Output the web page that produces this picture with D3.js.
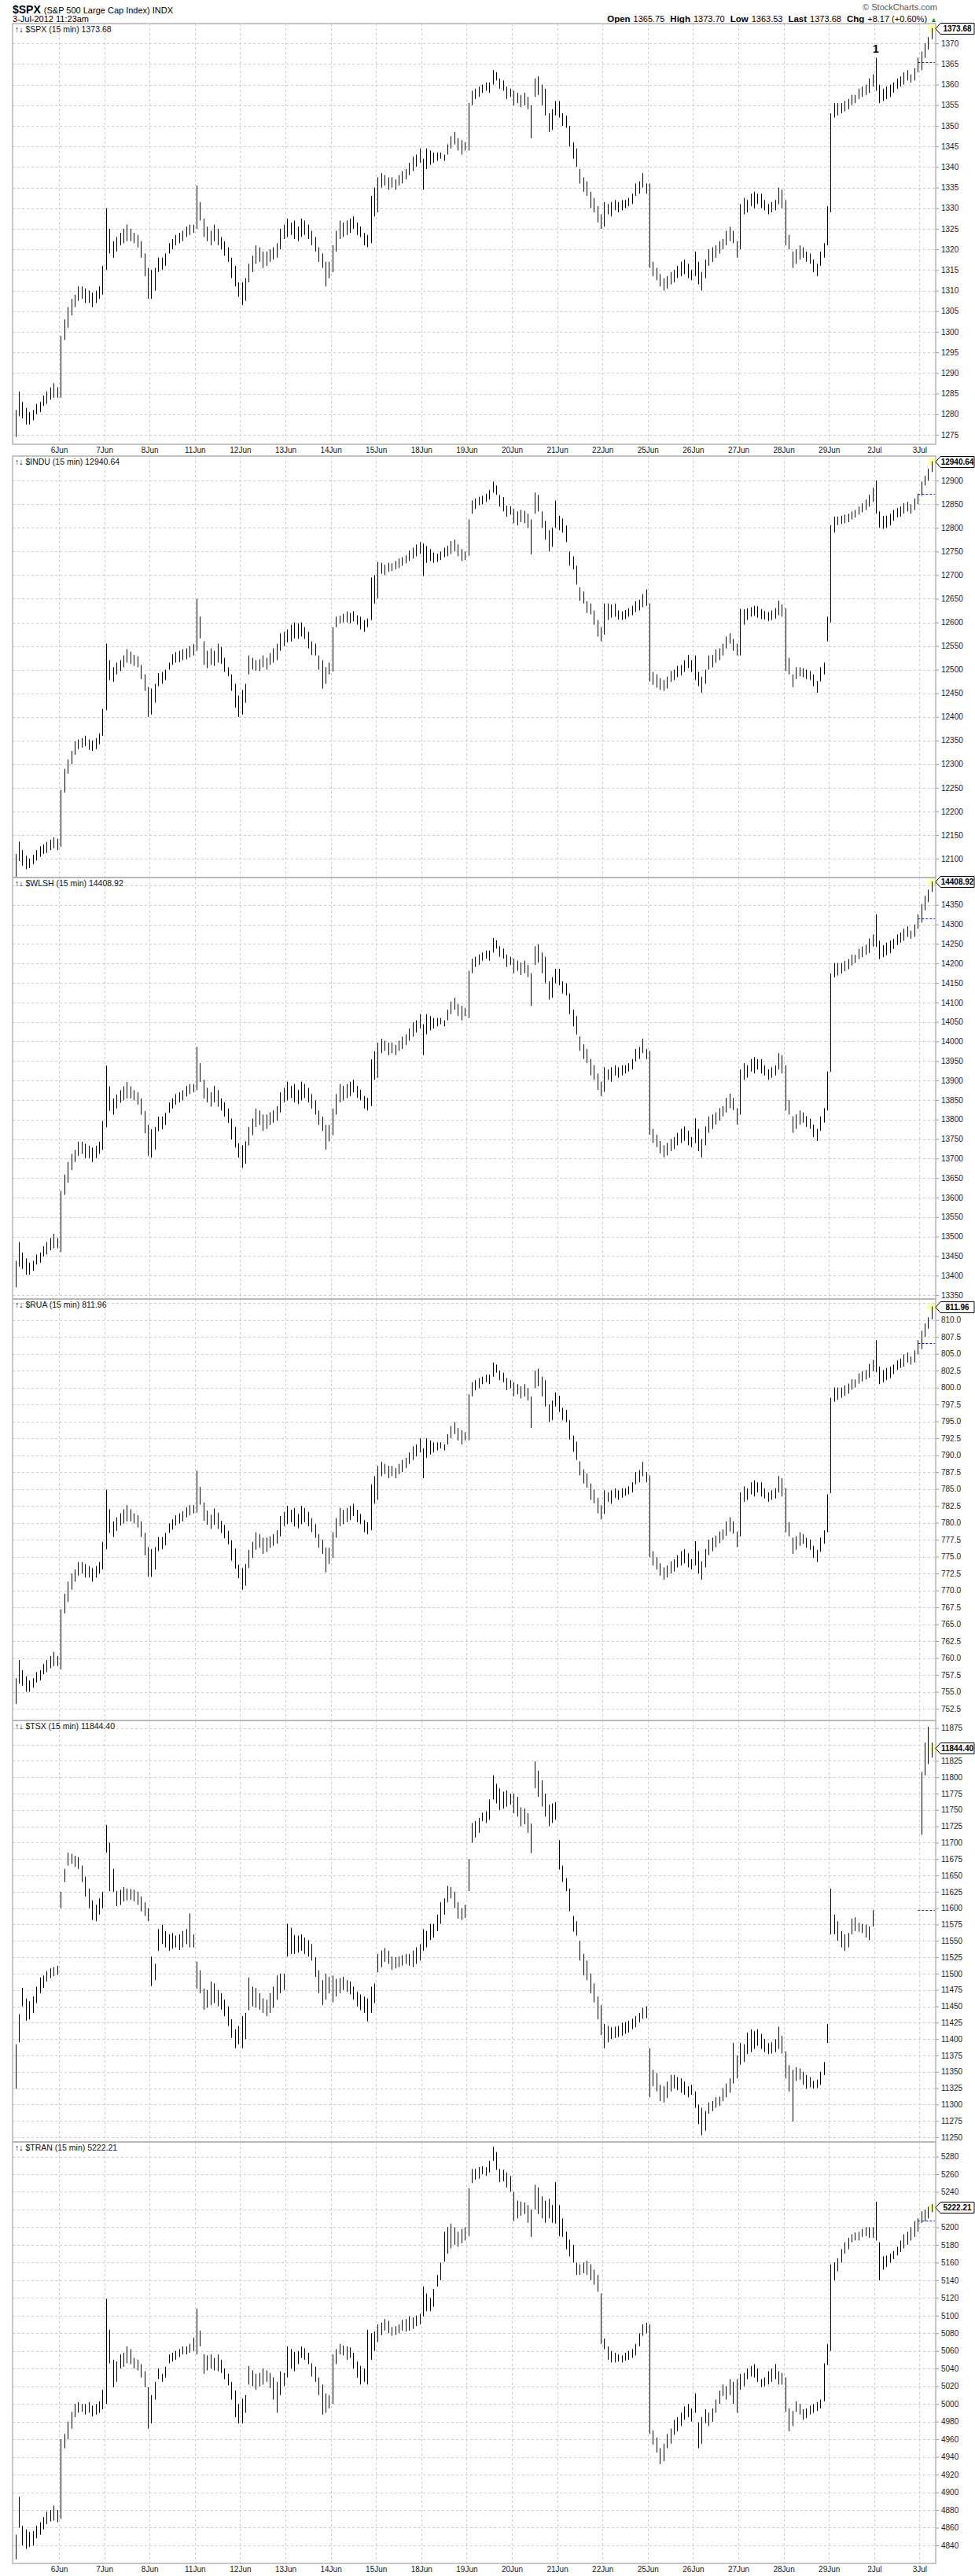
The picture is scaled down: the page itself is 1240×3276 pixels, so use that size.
<!DOCTYPE html>
<html>
<head>
<meta charset="utf-8">
<script src="https://cdn.jsdelivr.net/npm/d3@7"></script>
<style>
  body { margin: 0; background: #fff; }
  svg text { font-family: "Liberation Sans", Arial, sans-serif; }
</style>
</head>
<body>
<svg id="chart" width="1240" height="3276"></svg>
<script>
// ---- data: 30-min bars, 13 per session, Jun 5 .. Jul 3 (4 bars) ----
const dayLabels = ["6Jun","7Jun","8Jun","11Jun","12Jun","13Jun","14Jun","15Jun","18Jun","19Jun",
  "20Jun","21Jun","22Jun","25Jun","26Jun","27Jun","28Jun","29Jun","2Jul","3Jul"];
const BARS_PER_DAY = 13;

const spxHigh = [
  1281,1285.5,1283,1281.5,1280.5,1281,1282.5,1283,1284.5,1285.5,1286.5,1287.5,1286.5,
  1299,1303,1306,1308,1309,1311,1311,1310.5,1310,1309.5,1310,1311,1316,
  1330,1325,1322,1323,1324,1325,1326,1325,1324,1323.5,1322,1319,1315.5,
  1315,1315.5,1318,1318,1319,1321.5,1322.5,1323.5,1324,1324.5,1325.5,1326,1326,
  1335.5,1331.5,1327.5,1325.5,1324.5,1326,1325,1323,1322,1320.5,1318,1316,1312,
  1312,1313,1316.5,1318.5,1321,1320.5,1319.5,1319.5,1320,1320.5,1321.5,1325,1326,
  1327.5,1326.5,1327,1325.5,1327.5,1327,1326,1324.5,1323,1320.5,1319,1317,1317,
  1321,1324.5,1327,1326.5,1327,1327.5,1328,1326.5,1325.5,1324,1323.5,1333,1335,
  1337.5,1338.5,1338,1337.5,1337.5,1337,1338,1339,1339.5,1341,1342.5,1343,1344.5,
  1342,1344.5,1344,1343.5,1343.5,1343.5,1343,1345.5,1347.5,1348.5,1347,1346.5,1346,
  1355.5,1358.5,1359,1359.5,1360,1360.5,1360.5,1363.5,1363,1361.5,1361,1359.5,1359,
  1358.5,1358,1357.5,1358,1357,1355,1361.5,1362,1360,1359,1353,1354,1356,
  1356,1353,1352.5,1350,1346,1344.5,1339.5,1337.5,1336.5,1334,1332.5,1330.5,1328.5,
  1331.5,1331,1331.5,1332,1331.5,1332,1332,1332.5,1333.5,1336,1336.5,1338.5,1336,
  1336,1317,1315.5,1314,1313,1313.5,1314.5,1315,1316,1317,1317.5,1316.5,1315,
  1319.5,1317,1314.5,1317.5,1320,1320.5,1321,1322,1322.5,1324.5,1325.5,1324.5,1322,
  1331,1332.5,1332,1333.5,1334,1333.5,1333.5,1332,1331,1331.5,1332,1335,1334.5,
  1332,1323.5,1319.5,1320,1321,1320.5,1319.5,1319,1317.5,1316.5,1319.5,1321.5,1330.5,
  1353,1355.5,1355.5,1355.5,1356,1356.5,1357.5,1357.5,1359,1359.5,1360,1361.5,1362.5,
  1366.5,1360,1359,1359.5,1360,1360.5,1361.5,1362,1363,1363.5,1362.5,1364,1366.5,
  1368,1370,1371.5,1373.7
];
const spxLow = [
  1274.5,1279.5,1279,1277.5,1277.5,1278.5,1280,1280.5,1282,1282.5,1283.5,1284,1284,
  1284,1298,1301,1304,1306,1307.5,1308,1307,1307,1306,1307,1308,1309,
  1315,1319,1318,1319.5,1321,1321.5,1322,1322,1321.5,1320.5,1318,1313.5,1308,
  1308,1310,1314.5,1315,1316,1319,1320,1321,1321.5,1322,1323,1323.5,1324,
  1325,1327,1323,1322,1321,1322,1321,1320,1318.5,1317,1313,1311,1308.5,
  1306.5,1307.5,1312,1314.5,1316.5,1317,1315.5,1316,1317,1317.5,1318,1320,1322.5,
  1323,1323.5,1322.5,1322,1323,1323.5,1322.5,1321,1319.5,1317,1315.5,1311,1313,
  1314.5,1319.5,1322.5,1323,1323.5,1324,1325,1323.5,1323,1321,1320.5,1321.5,1328,
  1329,1335,1335.5,1334.5,1335,1334.5,1335.5,1336,1337,1338,1339,1340,1341,
  1334.5,1339.5,1340.5,1341,1341.5,1342,1341.5,1343,1344.5,1345.5,1344,1343,1344,
  1344,1355,1356.5,1357,1358,1358.5,1358,1360,1361,1359,1358.5,1356.5,1357,
  1355,1355.5,1354.5,1355,1354,1347,1357,1357.5,1355,1352.5,1348.5,1349,1352.5,
  1352,1350,1349.5,1345,1342,1340,1336,1334,1333,1330,1329,1326.5,1325,
  1325.5,1328.5,1328,1329.5,1329,1329.5,1330,1330.5,1331,1333,1333.5,1335,1333.5,
  1315.5,1313.5,1312.5,1311,1310,1310.5,1311.5,1312,1313,1313.5,1314,1313,1312.5,
  1313.5,1311.5,1310,1313,1316,1317,1318,1319,1320,1321,1322,1321.5,1318,
  1320,1328.5,1329,1330.5,1330,1331,1330,1329.5,1328.5,1329,1329.5,1331,1330,
  1321,1320,1315.5,1316.5,1317.5,1318,1317,1316.5,1314.5,1313.5,1316,1318,1321,
  1329,1352,1352.5,1353,1353.5,1354,1355,1355.5,1356.5,1357,1357.5,1358,1359.5,
  1358.5,1355.5,1356,1356.5,1357,1358,1359,1359.5,1360,1361,1360.5,1361,1363,
  1363.5,1366.5,1368.5,1371
];

const induHigh = [
  12110,12136,12118,12106,12100,12108,12118,12126,12130,12135,12140,12145,12142,
  12245,12290,12310,12328,12348,12352,12355,12360,12352,12350,12355,12365,12417,
  12555,12520,12505,12515,12520,12530,12543,12538,12531,12528,12510,12490,12463,
  12460,12470,12492,12495,12500,12515,12532,12537,12540,12543,12545,12550,12554,
  12650,12612,12560,12540,12545,12540,12555,12548,12525,12505,12490,12470,12445,
  12457,12470,12530,12525,12520,12522,12530,12525,12535,12545,12555,12577,12580,
  12585,12595,12600,12598,12600,12590,12580,12560,12555,12530,12520,12505,12515,
  12590,12612,12614,12618,12623,12620,12624,12615,12612,12605,12608,12695,12700,
  12728,12726,12722,12726,12725,12730,12735,12738,12742,12752,12758,12765,12770,
  12767,12762,12755,12748,12745,12750,12758,12762,12772,12775,12765,12755,12750,
  12818,12858,12862,12866,12868,12872,12880,12898,12890,12870,12865,12847,12846,
  12840,12835,12838,12836,12830,12818,12875,12870,12835,12815,12795,12800,12858,
  12826,12820,12805,12750,12740,12720,12674,12665,12645,12640,12625,12605,12590,
  12640,12640,12638,12640,12625,12623,12626,12630,12635,12645,12648,12660,12670,
  12640,12495,12490,12482,12478,12485,12497,12500,12508,12510,12520,12531,12520,
  12530,12495,12485,12500,12530,12531,12543,12545,12555,12570,12577,12565,12555,
  12629,12628,12630,12632,12635,12634,12628,12624,12622,12625,12630,12646,12638,
  12630,12525,12490,12505,12505,12503,12500,12497,12490,12476,12505,12515,12612,
  12806,12824,12824,12826,12828,12830,12835,12838,12845,12852,12860,12870,12885,
  12900,12835,12825,12826,12830,12838,12842,12845,12852,12855,12850,12862,12872,
  12898,12910,12925,12941
];
const induLow = [
  12058,12095,12085,12078,12080,12088,12096,12104,12110,12112,12118,12122,12118,
  12125,12240,12280,12300,12320,12332,12335,12338,12330,12328,12332,12342,12360,
  12414,12478,12474,12490,12497,12505,12515,12512,12508,12505,12480,12455,12400,
  12405,12430,12465,12470,12478,12500,12510,12515,12516,12520,12522,12526,12530,
  12540,12566,12510,12503,12510,12508,12515,12512,12495,12486,12455,12420,12400,
  12405,12430,12490,12500,12498,12497,12505,12500,12510,12515,12520,12540,12550,
  12558,12560,12566,12565,12570,12565,12545,12531,12530,12500,12460,12470,12490,
  12496,12590,12598,12600,12600,12598,12602,12595,12585,12580,12590,12605,12640,
  12651,12703,12700,12707,12709,12712,12715,12720,12725,12730,12735,12740,12745,
  12698,12726,12730,12726,12728,12732,12738,12740,12745,12750,12740,12730,12732,
  12741,12830,12840,12848,12850,12855,12860,12875,12870,12845,12835,12824,12828,
  12810,12805,12812,12810,12800,12744,12830,12835,12800,12775,12750,12760,12800,
  12795,12790,12770,12720,12712,12680,12646,12640,12620,12617,12595,12570,12560,
  12574,12605,12610,12612,12606,12605,12607,12612,12615,12622,12625,12632,12635,
  12475,12468,12462,12457,12455,12460,12474,12478,12484,12488,12495,12503,12495,
  12478,12465,12451,12470,12500,12505,12515,12520,12530,12545,12555,12540,12530,
  12530,12595,12605,12612,12614,12610,12607,12606,12603,12605,12608,12615,12612,
  12497,12490,12463,12480,12486,12484,12480,12478,12465,12451,12475,12490,12560,
  12600,12790,12806,12808,12810,12812,12818,12822,12828,12833,12838,12845,12855,
  12830,12800,12798,12800,12805,12815,12822,12824,12830,12835,12830,12838,12850,
  12868,12890,12900,12918
];

const wlshHigh = [
  13438,13486,13459,13444,13433,13438,13454,13459,13475,13486,13496,13507,13496,
  13617,13659,13691,13712,13722,13743,13743,13738,13733,13728,13733,13743,13796,
  13938,13885,13854,13864,13875,13885,13896,13885,13875,13870,13854,13822,13786,
  13775,13781,13807,13807,13817,13844,13854,13865,13870,13875,13886,13891,13891,
  13986,13944,13902,13881,13870,13886,13875,13854,13844,13828,13802,13781,13739,
  13734,13744,13781,13802,13828,13823,13813,13813,13818,13823,13834,13870,13881,
  13897,13886,13891,13876,13897,13891,13881,13865,13849,13823,13807,13786,13786,
  13828,13865,13891,13886,13891,13897,13902,13886,13876,13860,13855,13954,13975,
  13997,14007,14002,13997,13997,13991,14002,14012,14018,14033,14049,14054,14070,
  14044,14070,14065,14060,14060,14060,14054,14081,14102,14112,14096,14091,14086,
  14181,14212,14217,14223,14228,14233,14233,14265,14259,14244,14238,14223,14217,
  14212,14207,14202,14207,14196,14175,14244,14249,14228,14217,14154,14165,14186,
  14186,14154,14149,14123,14081,14065,14013,13992,13981,13955,13939,13918,13897,
  13934,13928,13934,13939,13934,13939,13939,13944,13955,13981,13986,14007,13981,
  13976,13776,13761,13745,13734,13740,13750,13755,13766,13776,13782,13771,13755,
  13803,13776,13750,13782,13808,13813,13818,13829,13834,13855,13866,13855,13829,
  13928,13944,13939,13955,13960,13955,13955,13939,13928,13934,13939,13970,13965,
  13939,13850,13808,13813,13823,13818,13808,13802,13787,13776,13808,13829,13923,
  14174,14201,14201,14201,14206,14211,14222,14222,14237,14243,14248,14264,14274,
  14326,14258,14247,14253,14258,14263,14274,14279,14289,14295,14284,14300,14326,
  14352,14373,14389,14410
];
const wlshLow = [
  13370,13423,13417,13402,13402,13412,13428,13433,13449,13454,13465,13470,13470,
  13460,13607,13638,13670,13691,13707,13712,13701,13701,13691,13701,13712,13722,
  13780,13822,13812,13828,13843,13849,13854,13854,13849,13838,13812,13765,13707,
  13702,13723,13770,13775,13786,13817,13828,13838,13844,13849,13859,13865,13870,
  13875,13896,13854,13844,13833,13844,13833,13823,13807,13791,13749,13728,13702,
  13676,13687,13734,13760,13781,13786,13771,13776,13786,13792,13797,13818,13844,
  13849,13855,13844,13839,13849,13855,13844,13828,13813,13786,13771,13723,13744,
  13760,13813,13844,13849,13855,13860,13870,13855,13849,13828,13823,13834,13902,
  13907,13970,13976,13965,13970,13965,13976,13981,13991,14002,14012,14023,14033,
  13965,14018,14028,14033,14039,14044,14039,14054,14070,14081,14065,14054,14065,
  14060,14175,14191,14196,14207,14212,14207,14228,14238,14217,14212,14191,14196,
  14175,14181,14170,14175,14165,14091,14196,14202,14175,14149,14107,14112,14149,
  14144,14123,14118,14070,14039,14018,13976,13955,13944,13913,13902,13876,13860,
  13871,13902,13897,13913,13907,13913,13918,13923,13928,13949,13955,13970,13955,
  13761,13740,13729,13713,13703,13708,13719,13724,13734,13740,13745,13734,13729,
  13740,13719,13703,13734,13766,13776,13787,13797,13808,13818,13829,13824,13787,
  13813,13902,13907,13923,13918,13928,13918,13913,13902,13907,13913,13928,13918,
  13823,13813,13766,13776,13787,13792,13781,13776,13755,13745,13771,13792,13823,
  13922,14164,14169,14174,14180,14185,14195,14201,14211,14216,14222,14227,14243,
  14242,14211,14216,14221,14226,14237,14247,14253,14258,14268,14263,14268,14289,
  14305,14336,14357,14383
];

const ruaHigh = [
  757.0,759.7,758.2,757.3,756.7,757.0,757.9,758.2,759.1,759.7,760.3,760.9,760.3,
  767.2,769.5,771.3,772.5,773.1,774.2,774.2,773.9,773.6,773.3,773.6,774.2,777.2,
  784.9,782.0,780.2,780.8,781.4,782.0,782.6,782.0,781.4,781.1,780.2,778.5,776.4,
  776.1,776.4,777.9,777.9,778.5,779.9,780.5,781.1,781.4,781.7,782.3,782.6,782.6,
  787.7,785.3,783.0,781.8,781.2,782.1,781.5,780.3,779.7,778.8,777.4,776.2,773.8,
  773.3,773.9,776.0,777.2,778.6,778.3,777.8,777.8,778.0,778.3,778.9,781.0,781.6,
  782.5,781.9,782.2,781.3,782.5,782.2,781.6,780.7,779.8,778.3,777.5,776.3,776.3,
  778.6,780.7,782.2,781.9,782.2,782.5,782.8,781.9,781.3,780.4,780.1,785.7,786.9,
  788.4,789.0,788.7,788.4,788.4,788.1,788.7,789.3,789.6,790.4,791.3,791.6,792.5,
  791.0,792.5,792.2,791.9,791.9,791.9,791.6,793.1,794.3,794.9,794.0,793.7,793.4,
  799.0,800.8,801.1,801.4,801.6,801.9,801.9,803.7,803.4,802.5,802.2,801.4,801.1,
  800.8,800.5,800.2,800.5,799.9,798.7,802.5,802.8,801.6,801.1,797.5,798.1,799.3,
  798.8,797.0,796.7,795.2,792.9,792.0,789.1,787.9,787.3,785.8,784.9,783.7,782.6,
  784.8,784.5,784.8,785.1,784.8,785.1,785.1,785.4,786.0,787.5,787.8,789.0,787.5,
  787.0,775.8,774.9,774.0,773.4,773.7,774.3,774.6,775.2,775.8,776.1,775.5,774.6,
  777.3,775.8,774.3,776.1,777.5,777.8,778.1,778.7,779.0,780.2,780.8,780.2,778.7,
  784.5,785.4,785.1,786.0,786.3,786.0,786.0,785.1,784.5,784.8,785.1,786.9,786.6,
  785.1,780.1,777.8,778.0,778.6,778.3,777.8,777.5,776.6,776.0,777.8,778.9,784.2,
  798.5,800.0,800.0,800.0,800.3,800.6,801.2,801.2,802.1,802.4,802.6,803.5,804.1,
  807.0,803.1,802.6,802.9,803.1,803.4,804.0,804.3,804.9,805.2,804.6,805.5,807.0,
  808.4,809.5,810.4,812.0
];
const ruaLow = [
  753.2,756.2,755.9,755.0,755.0,755.6,756.4,756.7,757.6,757.9,758.5,758.8,758.8,
  758.3,766.6,768.3,770.1,771.3,772.2,772.5,771.9,771.9,771.3,771.9,772.5,773.1,
  776.1,778.5,777.9,778.8,779.6,779.9,780.2,780.2,779.9,779.3,777.9,775.2,772.0,
  772.0,773.1,775.8,776.1,776.7,778.5,779.0,779.6,779.9,780.2,780.8,781.1,781.4,
  781.5,782.7,780.3,779.7,779.1,779.7,779.1,778.5,777.7,776.8,774.4,773.2,771.8,
  770.1,770.7,773.3,774.8,776.0,776.3,775.4,775.7,776.3,776.6,776.9,778.0,779.5,
  779.8,780.1,779.5,779.2,779.8,780.1,779.5,778.6,777.8,776.3,775.4,772.7,773.9,
  774.8,777.8,779.5,779.8,780.1,780.4,781.0,780.1,779.8,778.6,778.3,778.9,782.8,
  783.4,786.9,787.2,786.6,786.9,786.6,787.2,787.5,788.1,788.7,789.3,789.8,790.4,
  786.6,789.6,790.1,790.4,790.7,791.0,790.7,791.6,792.5,793.1,792.2,791.6,792.2,
  792.2,798.7,799.6,799.9,800.5,800.8,800.5,801.6,802.2,801.1,800.8,799.6,799.9,
  798.7,799.0,798.4,798.7,798.1,794.0,799.9,800.2,798.7,797.2,794.9,795.2,797.2,
  796.4,795.2,794.9,792.3,790.5,789.3,787.0,785.8,785.2,783.4,782.9,781.4,780.5,
  781.3,783.1,782.8,783.7,783.4,783.7,784.0,784.2,784.5,785.7,786.0,786.9,786.0,
  774.9,773.7,773.1,772.2,771.6,771.9,772.5,772.8,773.4,773.7,774.0,773.4,773.1,
  773.7,772.5,771.6,773.4,775.2,775.8,776.4,777.0,777.5,778.1,778.7,778.4,776.4,
  778.0,783.1,783.4,784.2,783.9,784.5,783.9,783.6,783.1,783.4,783.6,784.5,783.9,
  778.6,778.0,775.4,776.0,776.6,776.9,776.3,776.0,774.8,774.2,775.7,776.9,778.6,
  784.4,797.9,798.2,798.5,798.8,799.1,799.7,800.0,800.6,800.9,801.2,801.5,802.4,
  802.3,800.5,800.8,801.1,801.4,802.0,802.6,802.9,803.1,803.7,803.4,803.7,804.9,
  805.7,807.5,808.7,810.1
];

const tsxHigh = [
  11392,11438,11478,11462,11458,11465,11480,11494,11497,11504,11508,11510,11512,
  11625,11660,11685,11683,11680,11678,11665,11648,11630,11612,11605,11615,11625,
  11727,11700,11660,11626,11628,11632,11630,11629,11628,11625,11618,11609,11600,
  11526,11515,11568,11575,11565,11560,11562,11558,11560,11565,11568,11592,11560,
  11518,11505,11477,11475,11488,11485,11475,11470,11460,11450,11430,11415,11420,
  11435,11440,11494,11480,11478,11470,11462,11460,11470,11480,11497,11500,11500,
  11576,11570,11559,11558,11560,11555,11551,11545,11525,11505,11490,11500,11495,
  11497,11492,11493,11495,11490,11488,11480,11472,11468,11465,11462,11480,11485,
  11530,11535,11539,11535,11526,11525,11526,11528,11530,11530,11535,11540,11545,
  11568,11565,11576,11576,11590,11609,11615,11634,11632,11625,11609,11600,11605,
  11675,11730,11733,11738,11746,11748,11766,11803,11790,11783,11778,11780,11775,
  11775,11770,11754,11752,11745,11729,11824,11810,11795,11775,11758,11760,11762,
  11704,11665,11646,11630,11588,11580,11550,11530,11520,11500,11485,11465,11452,
  11423,11420,11418,11419,11420,11425,11426,11428,11431,11435,11440,11448,11450,
  11386,11353,11348,11330,11328,11335,11345,11345,11342,11340,11335,11328,11330,
  11320,11300,11295,11290,11303,11305,11311,11312,11325,11332,11340,11394,11375,
  11394,11392,11410,11415,11412,11415,11408,11400,11394,11395,11400,11419,11405,
  11381,11360,11353,11357,11355,11350,11345,11342,11336,11338,11350,11365,11423,
  11630,11590,11580,11565,11560,11562,11584,11586,11578,11576,11575,11572,11597,
  null,null,null,null,null,null,null,null,null,null,null,null,null,
  11808,11853,11877,11853
];
const tsxLow = [
  11324,11395,11450,11428,11430,11440,11455,11470,11478,11488,11493,11496,11498,
  11600,11640,11665,11668,11663,11660,11640,11618,11600,11582,11580,11590,11600,
  11685,11626,11625,11603,11605,11610,11612,11613,11610,11605,11595,11588,11580,
  11481,11490,11535,11545,11540,11535,11538,11540,11536,11540,11545,11540,11540,
  11477,11470,11445,11448,11452,11455,11450,11445,11435,11420,11402,11386,11392,
  11386,11400,11444,11450,11448,11445,11440,11435,11440,11448,11460,11470,11475,
  11526,11530,11530,11532,11535,11530,11526,11520,11495,11470,11452,11460,11470,
  11456,11465,11470,11475,11472,11468,11460,11450,11444,11440,11427,11440,11455,
  11502,11510,11518,11515,11506,11508,11510,11512,11515,11512,11510,11515,11520,
  11535,11540,11551,11555,11565,11576,11590,11609,11615,11600,11584,11582,11585,
  11626,11700,11708,11715,11733,11730,11735,11766,11760,11750,11752,11755,11758,
  11745,11740,11725,11728,11715,11684,11783,11770,11755,11740,11725,11730,11735,
  11659,11640,11626,11595,11564,11558,11520,11497,11490,11470,11456,11430,11406,
  11386,11395,11400,11402,11403,11405,11408,11410,11415,11418,11425,11431,11432,
  11311,11328,11320,11305,11303,11310,11320,11325,11322,11318,11315,11311,11315,
  11295,11270,11253,11260,11286,11290,11295,11298,11305,11311,11318,11332,11340,
  11361,11365,11377,11380,11385,11390,11385,11380,11377,11378,11380,11385,11378,
  11340,11320,11274,11336,11338,11330,11324,11326,11324,11325,11330,11345,11394,
  11560,11560,11550,11540,11535,11540,11560,11565,11564,11562,11555,11551,11572,
  null,null,null,null,null,null,null,null,null,null,null,null,null,
  11712,11803,11820,11830
];

const tranHigh = [
  4852,4895,4862,4858,4855,4856,4862,4866,4872,4878,4880,4885,4880,
  4960,4966,4980,4991,5000,5002,5000,5000,5002,4998,5000,5003,5016,
  5119,5084,5050,5048,5056,5058,5065,5062,5052,5050,5045,5037,5019,
  5010,5025,5040,5034,5042,5056,5058,5060,5062,5065,5065,5068,5075,
  5108,5083,5056,5055,5056,5052,5056,5050,5040,5034,5025,5015,5000,
  5006,5010,5043,5038,5034,5035,5040,5038,5035,5030,5025,5037,5035,
  5065,5062,5059,5060,5065,5063,5058,5046,5042,5030,5022,5012,5010,
  5056,5062,5068,5066,5065,5064,5058,5048,5043,5040,5084,5080,5082,
  5090,5092,5096,5094,5087,5088,5090,5095,5096,5099,5098,5100,5102,
  5133,5125,5120,5130,5146,5160,5195,5200,5204,5200,5195,5198,5200,
  5244,5266,5266,5268,5269,5268,5275,5291,5285,5266,5265,5262,5258,
  5240,5230,5229,5228,5225,5220,5248,5245,5235,5230,5232,5225,5251,
  5225,5210,5195,5186,5180,5160,5158,5160,5162,5158,5152,5146,5125,
  5074,5065,5060,5058,5056,5055,5058,5060,5062,5068,5080,5090,5092,
  5090,4970,4962,4950,4955,4966,4972,4982,4985,4990,4997,5000,4995,
  5012,4979,4985,4994,4990,4995,5005,5015,5022,5020,5028,5025,5028,
  5034,5035,5040,5043,5045,5040,5028,5030,5037,5040,5045,5037,5035,
  5030,4995,4992,5003,5000,4994,4995,4998,5000,5002,5005,5046,5068,
  5158,5160,5165,5175,5183,5188,5192,5194,5195,5198,5200,5200,5200,
  5229,5183,5167,5168,5170,5173,5178,5185,5192,5195,5200,5207,5210,
  5218,5220,5223,5226
];
const tranLow = [
  4824,4860,4840,4836,4838,4840,4848,4852,4858,4864,4867,4868,4866,
  4870,4950,4960,4972,4985,4990,4991,4988,4990,4986,4988,4990,4994,
  5000,5046,5019,5025,5040,5042,5046,5045,5040,5038,5030,5019,4972,
  4978,5005,5028,5025,5030,5046,5048,5050,5053,5056,5056,5058,5060,
  5056,5065,5034,5038,5040,5038,5037,5035,5028,5021,5005,4985,4978,
  4978,4990,5022,5020,5016,5020,5022,5025,5018,5005,4990,5010,5020,
  5030,5040,5037,5045,5052,5050,5045,5031,5025,5010,4988,4990,4995,
  5000,5045,5056,5055,5050,5052,5040,5030,5022,5025,5022,5050,5060,
  5070,5078,5083,5080,5077,5078,5080,5083,5082,5083,5085,5088,5090,
  5099,5105,5105,5110,5133,5140,5161,5170,5176,5180,5178,5182,5185,
  5190,5250,5254,5255,5260,5258,5262,5275,5265,5251,5252,5245,5240,
  5207,5210,5213,5215,5205,5189,5220,5215,5210,5205,5210,5205,5204,
  5190,5189,5175,5167,5160,5146,5146,5148,5146,5140,5135,5127,5068,
  5062,5050,5047,5047,5048,5047,5049,5050,5052,5055,5065,5077,5080,
  4966,4954,4945,4932,4935,4950,4955,4965,4969,4975,4982,4985,4980,
  4990,4950,4955,4978,4975,4980,4990,5000,5009,5005,5010,5000,4990,
  5016,5020,5028,5031,5030,5025,5019,5020,5022,5025,5028,5022,5022,
  4991,4969,4975,4991,4988,4982,4984,4988,4990,4992,4995,5003,5044,
  5060,5140,5150,5160,5170,5175,5183,5185,5185,5189,5190,5188,5188,
  5185,5140,5152,5155,5160,5164,5168,5172,5176,5180,5185,5189,5195,
  5205,5207,5210,5217
];

// last print and prior close per symbol
const symbols   = ["$SPX", "$INDU", "$WLSH", "$RUA", "$TSX", "$TRAN"];
const lastVals  = [1373.68, 12940.64, 14408.92, 811.96, 11844.40, 5222.21];
const prevClose = [1365.51, 12871.39, 14315, 806.6, 11596.89, 5207.6];

// ---------------- layout ----------------
const svg = d3.select("#chart");
const plotLeft = 16, plotRight = 1190;
const dayW = 57.6, x0 = 17.4;
const x = d3.scaleLinear().domain([0, 21 * BARS_PER_DAY]).range([x0, x0 + 21 * dayW]);
const dayStarts = d3.range(1, 21).map(d => d * BARS_PER_DAY);

const panels = [
  { hi: spxHigh,  lo: spxLow,  top: 30,   bottom: 565,  domain: [1272.7, 1374.8], ticks: d3.range(1275, 1371, 5),      fmt: d3.format("d") },
  { hi: induHigh, lo: induLow, top: 580,  bottom: 1116, domain: [12060, 12952],   ticks: d3.range(12100, 12901, 50),   fmt: d3.format("d") },
  { hi: wlshHigh, lo: wlshLow, top: 1116, bottom: 1652, domain: [13340, 14420],   ticks: d3.range(13350, 14401, 50),   fmt: d3.format("d") },
  { hi: ruaHigh,  lo: ruaLow,  top: 1652, bottom: 2188, domain: [750.76, 813.1],  ticks: d3.range(752.5, 812.6, 2.5),  fmt: d3.format(".1f") },
  { hi: tsxHigh,  lo: tsxLow,  top: 2188, bottom: 2724, domain: [11242.8, 11886.7], ticks: d3.range(11250, 11876, 25), fmt: d3.format("d") },
  { hi: tranHigh, lo: tranLow, top: 2724, bottom: 3260, domain: [4819.5, 5296.5], ticks: d3.range(4840, 5281, 20),     fmt: d3.format("d") }
];

// ---------------- header ----------------
const head = svg.append("g");
head.append("text").attr("x", plotLeft).attr("y", 17)
  .call(t => t.append("tspan").attr("font-weight", "bold").attr("font-size", 14).text("$SPX"))
  .call(t => t.append("tspan").attr("font-size", 11).attr("dx", 4).text("(S&P 500 Large Cap Index) INDX"));
head.append("text").attr("x", plotLeft).attr("y", 28).attr("font-size", 11).text("3-Jul-2012 11:23am");
head.append("text").attr("x", 1192).attr("y", 13).attr("text-anchor", "end")
  .attr("font-size", 11).attr("fill", "#555").text("\u00A9 StockCharts.com");
const quote = head.append("text").attr("x", 1192).attr("y", 28).attr("text-anchor", "end").attr("font-size", 11);
[["Open", "1365.75"], ["High", "1373.70"], ["Low", "1363.53"], ["Last", "1373.68"], ["Chg", "+8.17 (+0.60%)"]]
  .forEach(([k, v], i) => {
    quote.append("tspan").attr("font-weight", "bold").attr("dx", i ? 7 : 0).attr("font-size", 11.5).text(k);
    quote.append("tspan").attr("dx", 4).text(v);
  });
quote.append("tspan").attr("dx", 4).attr("fill", "#1a9a1a").attr("font-size", 9).text("\u25B2");

// ---------------- panels ----------------
function drawPanel(p, i) {
  const g = svg.append("g");
  const y = d3.scaleLinear().domain(p.domain).range([p.bottom, p.top]);
  const ticks = p.ticks.filter(v => y(v) > p.top + 3 && y(v) < p.bottom - 3);
  const tagY = Math.round(y(lastVals[i])) + 0.5;
  // labels that would sit under the last-value tag stay hidden, as on the original
  const labelTicks = ticks.filter(v => Math.abs(y(v) - tagY) > 11);

  svg.append("clipPath").attr("id", "clip" + i).append("rect")
    .attr("x", plotLeft).attr("y", p.top).attr("width", plotRight - plotLeft).attr("height", p.bottom - p.top);

  // grid
  g.append("g").selectAll("line").data(ticks).join("line")
    .attr("x1", plotLeft).attr("x2", plotRight)
    .attr("y1", d => Math.round(y(d)) + 0.5).attr("y2", d => Math.round(y(d)) + 0.5)
    .attr("stroke", "#cfcfcf").attr("stroke-dasharray", "3,3");
  g.append("g").selectAll("line").data(dayStarts).join("line")
    .attr("x1", d => Math.round(x(d)) + 0.5).attr("x2", d => Math.round(x(d)) + 0.5)
    .attr("y1", p.top).attr("y2", p.bottom)
    .attr("stroke", "#cfcfcf").attr("stroke-dasharray", "3,3");

  // prior close marker on the last session
  g.append("line")
    .attr("x1", x(20 * BARS_PER_DAY) - 2).attr("x2", plotRight - 1)
    .attr("y1", Math.round(y(prevClose[i])) + 0.5).attr("y2", Math.round(y(prevClose[i])) + 0.5)
    .attr("stroke", "#1c2a9c").attr("stroke-dasharray", "3,2");

  // last-bar highlight
  let lastIdx = -1;
  p.hi.forEach((h, k) => { if (h != null) lastIdx = k; });
  if (lastIdx >= 0) {
    g.append("circle").attr("cx", x(lastIdx + 0.5)).attr("cy", y(lastVals[i]))
      .attr("r", 5).attr("fill", "#ffff8c").attr("opacity", 0.8);
  }

  // HL bars
  const path = p.hi.map((h, k) => {
    if (h == null) return "";
    const bx = Math.round(x(k + 0.5)) + 0.5;
    const y1 = y(h), y2 = Math.max(y(p.lo[k]), y1 + 1);
    return `M${bx},${y1.toFixed(1)}V${y2.toFixed(1)}`;
  }).join("");
  g.append("path").attr("clip-path", `url(#clip${i})`)
    .attr("d", path).attr("fill", "none").attr("stroke", "#000").attr("stroke-width", 1);

  // right axis
  g.append("g").attr("transform", `translate(${plotRight},0)`)
    .call(d3.axisRight(y).tickValues(labelTicks).tickFormat(p.fmt).tickSize(4).tickPadding(3))
    .call(a => a.select(".domain").remove())
    .call(a => a.selectAll(".tick line").attr("stroke", "#999"))
    .call(a => a.selectAll(".tick text").attr("font-size", 10).attr("fill", "#222")
      .attr("font-family", "Liberation Sans, Arial, sans-serif"));

  // frame
  g.append("rect").attr("x", plotLeft).attr("y", p.top)
    .attr("width", plotRight - plotLeft).attr("height", p.bottom - p.top)
    .attr("fill", "none").attr("stroke", "#b4b4b4").attr("stroke-width", 1.5);

  // legend
  g.append("text").attr("x", plotLeft + 3).attr("y", p.top + 11)
    .attr("font-family", "DejaVu Sans, sans-serif").attr("font-size", 10.5).attr("fill", "#111")
    .text(`\u2191\u2193 ${symbols[i]} (15 min) ${lastVals[i].toFixed(2)}`);

  // last value tag
  const bx = plotRight;
  g.append("path")
    .attr("d", `M${bx},${tagY}L${bx + 6},${tagY - 7}H1239V${tagY + 7}H${bx + 6}Z`)
    .attr("fill", "#fff").attr("stroke", "#000").attr("stroke-width", 1);
  g.append("text").attr("x", (bx + 6 + 1239) / 2).attr("y", tagY + 3.5)
    .attr("text-anchor", "middle").attr("font-weight", "bold").attr("font-size", 10)
    .text(lastVals[i].toFixed(2));

  if (i === 0) {
    // "1" marker over the Jul 2 opening spike
    const k = 19 * BARS_PER_DAY;
    g.append("text").attr("x", x(k + 0.5)).attr("y", y(spxHigh[k]) - 6)
      .attr("text-anchor", "middle").attr("font-weight", "bold").attr("font-size", 14).text("1");
  }
}
panels.forEach(drawPanel);

// date axes: under the price panel and at the bottom
function dateAxis(yPos) {
  svg.append("g").attr("transform", `translate(0,${yPos})`)
    .call(d3.axisBottom(x).tickValues(dayStarts).tickFormat((d, k) => dayLabels[k]).tickSize(0).tickPadding(3))
    .call(a => a.select(".domain").remove())
    .call(a => a.selectAll(".tick text").attr("font-size", 10).attr("fill", "#222")
      .attr("font-family", "Liberation Sans, Arial, sans-serif"));
}
dateAxis(566);
dateAxis(3261);
</script>
</body>
</html>
